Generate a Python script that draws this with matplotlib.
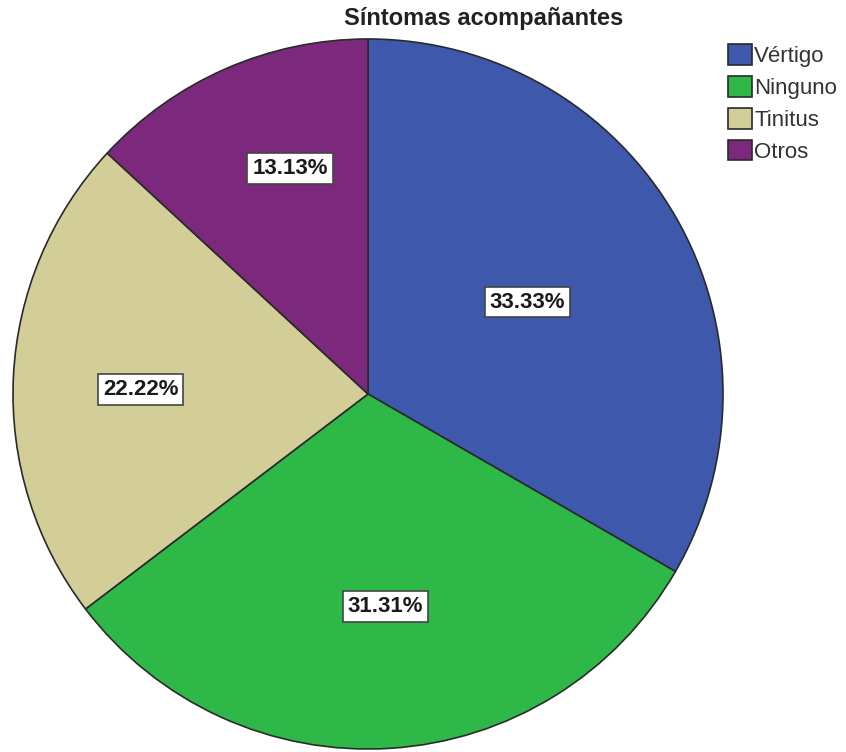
import matplotlib
matplotlib.use("Agg")
import matplotlib.pyplot as plt
import numpy as np

categories = ["Vértigo", "Ninguno", "Tinitus", "Otros"]
values = [33.33, 31.31, 22.22, 13.13]
labels = ["33.33%", "31.31%", "22.22%", "13.13%"]
colors = ["#3E58AC", "#2EB848", "#D3CE97", "#7C287D"]
title = "Síntomas acompañantes"

plt.rcParams['font.family'] = ['Liberation Sans', 'DejaVu Sans']

fig = plt.figure(figsize=(8.46, 7.52), dpi=100)
W, H = 846, 752
cx, cy, r = 368, 394, 355
ax = fig.add_axes([(cx - r) / W, (H - cy - r) / H, 2 * r / W, 2 * r / H])
wedges, _ = ax.pie(values, colors=colors, startangle=90, counterclock=False,
                   radius=1.0, center=(0, 0),
                   wedgeprops=dict(edgecolor="#2a2a2a", linewidth=1.2))
ax.set_xlim(-1, 1)
ax.set_ylim(-1, 1)
ax.set_aspect('auto')
ax.axis('off')

label_dist = [0.518, 0.60, 0.64, 0.673]
label_shift = [0.0, 1.0, 1.5, -4.6]
for w, lab, d, s in zip(wedges, labels, label_dist, label_shift):
    ang = np.deg2rad((w.theta1 + w.theta2) / 2 + s)
    ax.text(d * np.cos(ang), d * np.sin(ang), lab, ha='center', va='center',
            fontsize=16, fontweight='bold', color='#1a1a1a',
            bbox=dict(boxstyle='square,pad=0.22', facecolor='white',
                      edgecolor='#444444', linewidth=1.2))

fig.text(484 / W, 1 - 18 / H, title, ha='center', va='center',
         fontsize=17, fontweight='bold', color='#222222')

leg = fig.legend(wedges, categories, loc='upper left',
                 bbox_to_anchor=(724 / W, 1 - 40 / H), frameon=False,
                 fontsize=16, handlelength=1.05, handleheight=1.05,
                 handletextpad=0.1, labelspacing=0.4, borderpad=0.2,
                 borderaxespad=0.0, labelcolor='#333333')

fig.savefig("out.png", dpi=100)
